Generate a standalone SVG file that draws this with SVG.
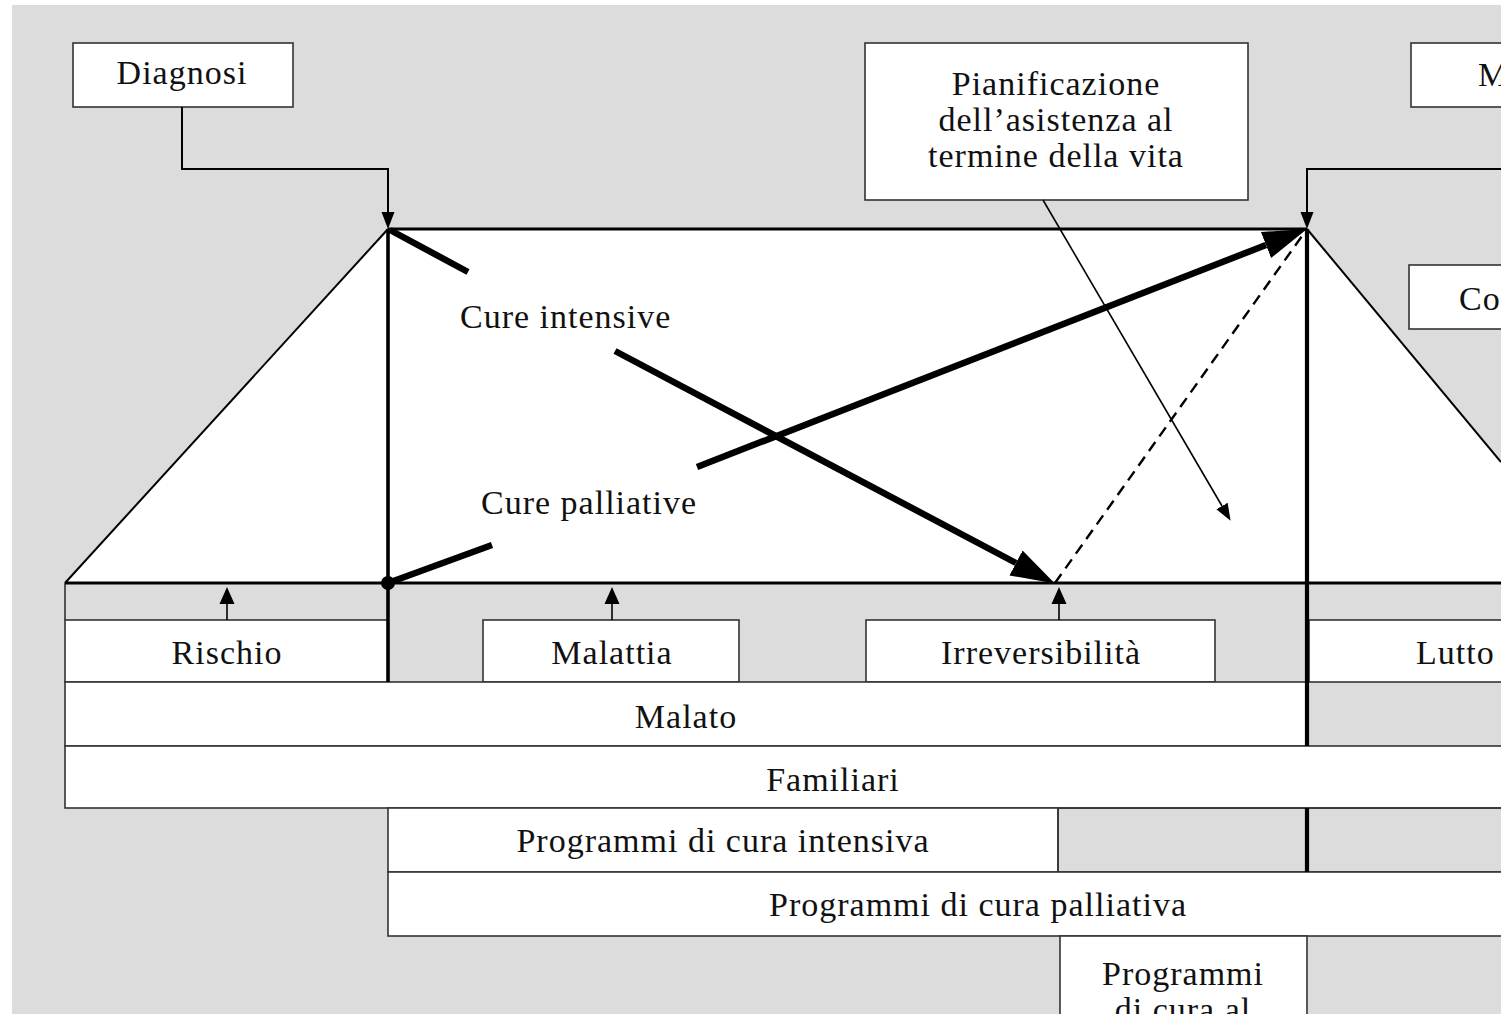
<svg xmlns="http://www.w3.org/2000/svg" width="1501" height="1014" viewBox="0 0 1501 1014">
<style>
.t{font-family:"Liberation Serif","Times New Roman",serif;font-size:34px;letter-spacing:1px;fill:#111}
.c{text-anchor:middle}
.box{fill:#fff;stroke:#333;stroke-width:1.6}
.thin{stroke:#000;stroke-width:2;fill:none}
.frame{stroke:#000;stroke-width:3.2;fill:none}
.fat{stroke:#000;stroke-width:6.5;fill:none}
.vbar{stroke:#000;stroke-width:4.2}
</style>
<defs>
<marker id="big" markerUnits="userSpaceOnUse" markerWidth="46" markerHeight="32" refX="0" refY="16" orient="auto"><path d="M0,2 L44,16 L0,30 z" fill="#000"/></marker>
<marker id="mid" markerUnits="userSpaceOnUse" markerWidth="18" markerHeight="14" refX="0" refY="7" orient="auto"><path d="M0,0.5 L17,7 L0,13.5 z" fill="#000"/></marker>
<marker id="sm" markerUnits="userSpaceOnUse" markerWidth="18" markerHeight="16" refX="0" refY="8" orient="auto"><path d="M0,0.5 L17,8 L0,15.5 z" fill="#000"/></marker>
</defs>
<rect x="0" y="0" width="1501" height="1014" fill="#fff"/>
<rect x="12" y="5" width="1489" height="1009" fill="#dcdcdc"/>
<polygon points="65,583 388,229 1307,229 1501,462 1501,583" fill="#fff"/>

<g id="diagnosi"><rect class="box" x="73" y="43" width="220" height="64"/><text class="t c" x="182" y="84">Diagnosi</text></g>
<g id="pianificazione"><rect class="box" x="865" y="43" width="383" height="157"/>
<text class="t c" x="1056" y="95">Pianificazione</text>
<text class="t c" x="1056" y="131">dell’asistenza al</text>
<text class="t c" x="1056" y="167">termine della vita</text></g>
<g id="m"><rect class="box" x="1411" y="43" width="100" height="64"/><text class="t" x="1478" y="86">M</text></g>
<g id="co"><rect class="box" x="1409" y="265" width="100" height="64"/><text class="t" x="1459" y="310">Co</text></g>

<g id="rischio"><rect class="box" x="65" y="620" width="323" height="62"/><text class="t c" x="227" y="664">Rischio</text></g>
<g id="malattia"><rect class="box" x="483" y="620" width="256" height="62"/><text class="t c" x="612" y="664">Malattia</text></g>
<g id="irreversibilita"><rect class="box" x="866" y="620" width="349" height="62"/><text class="t c" x="1041" y="664">Irreversibilità</text></g>
<g id="lutto"><rect class="box" x="1309" y="620" width="200" height="62"/><text class="t" x="1416" y="664">Lutto</text></g>
<g id="malato"><rect class="box" x="65" y="682" width="1242" height="64"/><text class="t c" x="686" y="728">Malato</text></g>
<g id="familiari"><rect class="box" x="65" y="746" width="1450" height="62"/><text class="t c" x="833" y="791">Familiari</text></g>
<g id="prog-intensiva"><rect class="box" x="388" y="808" width="670" height="64"/><text class="t c" x="723" y="852">Programmi di cura intensiva</text></g>
<rect x="1058" y="808" width="460" height="64" fill="none" stroke="#333" stroke-width="1.6"/>
<g id="prog-palliativa"><rect class="box" x="388" y="872" width="1130" height="64"/><text class="t c" x="978" y="916">Programmi di cura palliativa</text></g>
<g id="prog-termine"><rect class="box" x="1060" y="936" width="247" height="100"/><text class="t c" x="1183" y="985">Programmi</text><text class="t c" x="1183" y="1021">di cura al</text></g>

<g id="labels">
<text class="t" x="460" y="328">Cure intensive</text>
<text class="t" x="481" y="514">Cure palliative</text>
</g>

<g id="connectors">
<line x1="65" y1="583" x2="65" y2="620" stroke="#333" stroke-width="1.6"/>
<polyline class="thin" points="182,107 182,169 388,169 388,212" marker-end="url(#mid)"/>
<polyline class="thin" points="1501,169 1307,169 1307,212" marker-end="url(#mid)"/>
<line class="thin" x1="65" y1="583" x2="388" y2="229"/>
<line class="thin" x1="1307" y1="229" x2="1501" y2="462"/>
<line class="frame" x1="388" y1="229" x2="1307" y2="229"/>
<line class="frame" x1="65" y1="583" x2="1501" y2="583"/>
<line x1="388" y1="229" x2="388" y2="682" stroke="#000" stroke-width="3.6"/>
<line class="vbar" x1="1307" y1="229" x2="1307" y2="746"/>
<line class="vbar" x1="1307" y1="808" x2="1307" y2="872"/>
<circle cx="388" cy="583" r="7" fill="#000"/>
<line x1="227" y1="620" x2="227" y2="604" stroke="#000" stroke-width="1.6" marker-end="url(#sm)"/>
<line x1="612" y1="620" x2="612" y2="604" stroke="#000" stroke-width="1.6" marker-end="url(#sm)"/>
<line x1="1059" y1="620" x2="1059" y2="604" stroke="#000" stroke-width="1.6" marker-end="url(#sm)"/>
<line class="fat" x1="390" y1="230" x2="468" y2="272"/>
<line class="fat" x1="615" y1="351" x2="1016" y2="563" marker-end="url(#big)"/>
<line class="fat" x1="388" y1="583" x2="492" y2="545"/>
<line class="fat" x1="697" y1="467" x2="1266" y2="245" marker-end="url(#big)"/>
<line x1="1055" y1="583" x2="1307" y2="229" stroke="#000" stroke-width="2.4" stroke-dasharray="11,7"/>
<line x1="1043" y1="200" x2="1222" y2="506" stroke="#000" stroke-width="1.6" marker-end="url(#mid)"/>
</g>
</svg>
